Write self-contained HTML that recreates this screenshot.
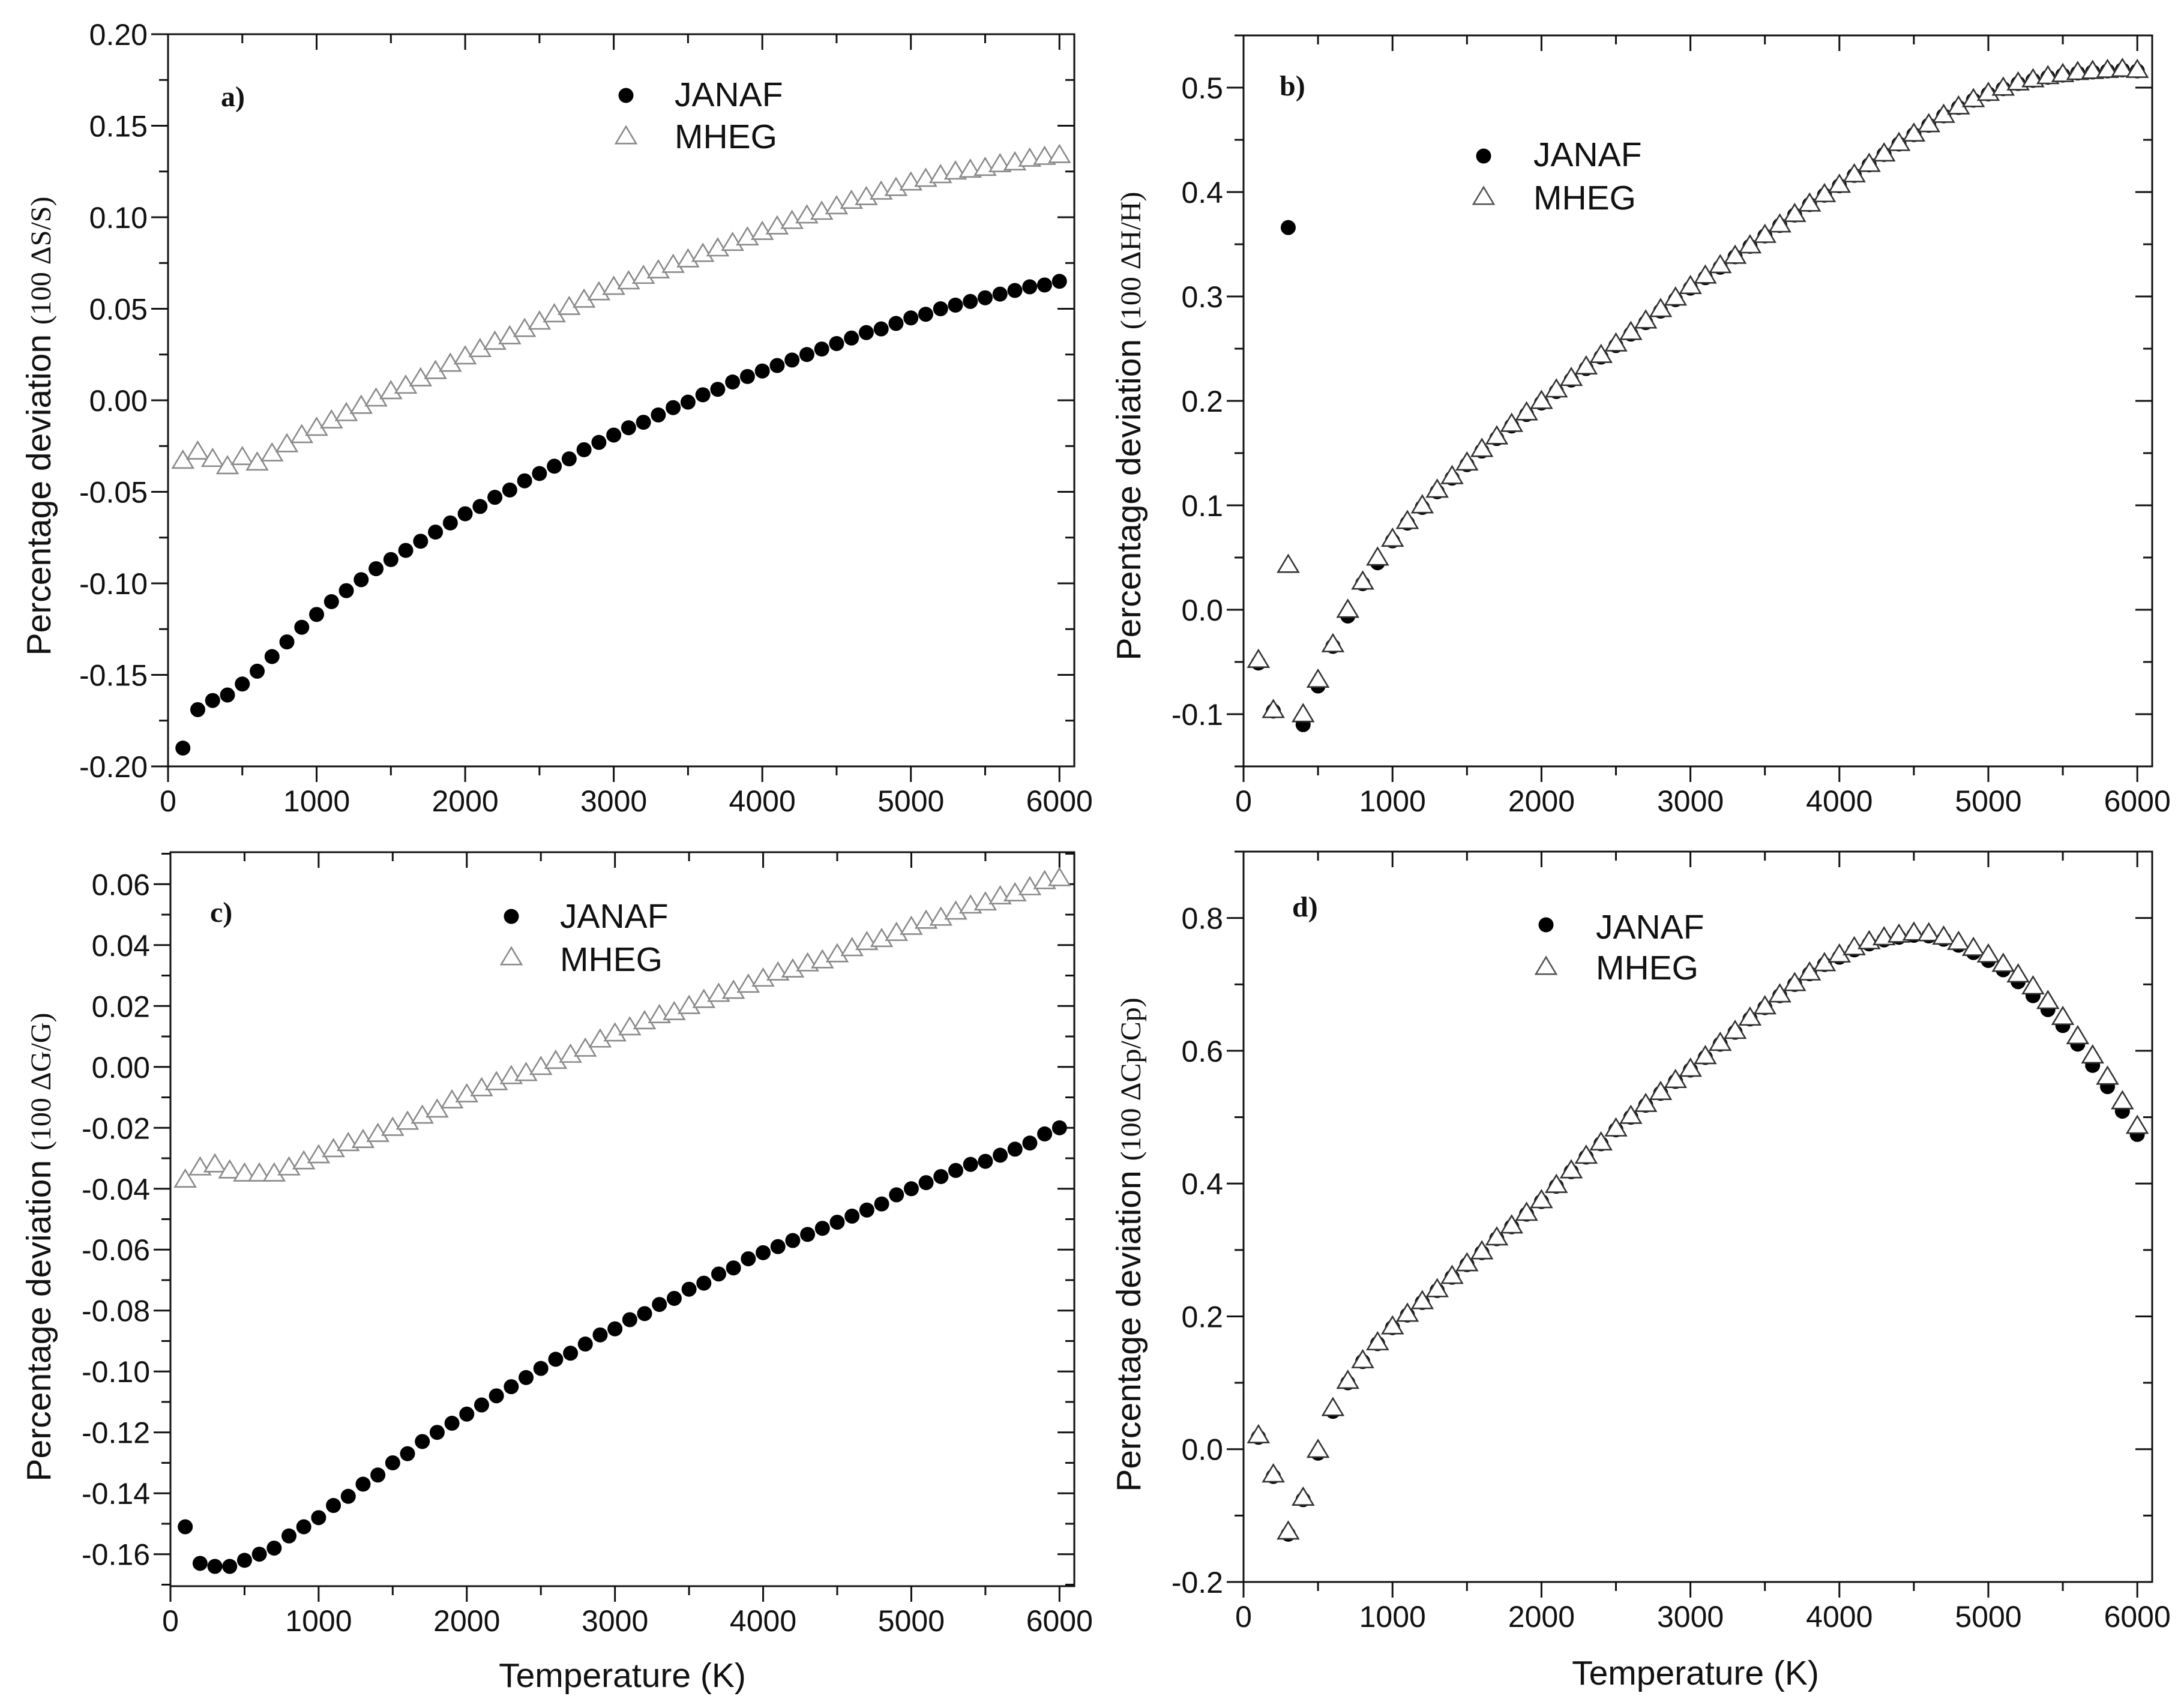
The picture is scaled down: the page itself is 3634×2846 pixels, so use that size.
<!DOCTYPE html>
<html><head><meta charset="utf-8"><style>
html,body{margin:0;padding:0;background:#fff}
svg{display:block}
text{font-family:"Liberation Sans",sans-serif;fill:#111}
</style></head><body>
<svg id="fig" width="3634" height="2846" viewBox="0 0 3634 2846" xmlns="http://www.w3.org/2000/svg"></svg>
<script>
const temps = [100,200,300,400,500,600,700,800,900,1000,1100,1200,1300,1400,1500,1600,1700,1800,1900,2000,2100,2200,2300,2400,2500,2600,2700,2800,2900,3000,3100,3200,3300,3400,3500,3600,3700,3800,3900,4000,4100,4200,4300,4400,4500,4600,4700,4800,4900,5000,5100,5200,5300,5400,5500,5600,5700,5800,5900,6000];
const xTicks = [0,1000,2000,3000,4000,5000,6000];

const aJanaf = [-0.190,-0.169,-0.164,-0.161,-0.155,-0.148,-0.140,-0.132,-0.124,-0.117,-0.110,-0.104,-0.098,-0.092,-0.087,-0.082,-0.077,-0.072,-0.067,-0.062,-0.058,-0.053,-0.049,-0.044,-0.040,-0.036,-0.032,-0.027,-0.023,-0.019,-0.015,-0.012,-0.008,-0.004,-0.001,0.003,0.006,0.010,0.013,0.016,0.019,0.022,0.025,0.028,0.031,0.034,0.037,0.039,0.042,0.045,0.047,0.050,0.052,0.054,0.056,0.058,0.060,0.062,0.063,0.065];
const aMheg = [-0.033,-0.028,-0.032,-0.036,-0.031,-0.034,-0.029,-0.024,-0.019,-0.015,-0.011,-0.007,-0.003,0.001,0.005,0.008,0.012,0.016,0.020,0.024,0.028,0.032,0.035,0.039,0.043,0.047,0.051,0.055,0.059,0.062,0.065,0.068,0.071,0.074,0.077,0.080,0.083,0.086,0.089,0.092,0.095,0.098,0.101,0.103,0.106,0.109,0.111,0.114,0.116,0.119,0.121,0.123,0.125,0.126,0.127,0.129,0.130,0.132,0.133,0.134];
const aYTicks = [-0.20,-0.15,-0.10,-0.05,0.00,0.05,0.10,0.15,0.20];
const aYLabels = ["-0.20","-0.15","-0.10","-0.05","0.00","0.05","0.10","0.15","0.20"];

const bJanaf = [-0.051,-0.097,0.366,-0.110,-0.073,-0.035,-0.006,0.025,0.045,0.066,0.083,0.098,0.113,0.126,0.139,0.152,0.164,0.176,0.187,0.198,0.209,0.220,0.231,0.242,0.253,0.264,0.275,0.286,0.297,0.308,0.318,0.328,0.338,0.348,0.358,0.368,0.378,0.388,0.397,0.406,0.416,0.426,0.436,0.446,0.455,0.464,0.473,0.481,0.488,0.494,0.499,0.504,0.507,0.510,0.512,0.514,0.515,0.516,0.517,0.516];
const bMheg = [-0.048,-0.096,0.043,-0.100,-0.067,-0.033,0.000,0.027,0.050,0.068,0.085,0.100,0.115,0.128,0.141,0.154,0.166,0.178,0.189,0.200,0.211,0.222,0.233,0.244,0.255,0.266,0.277,0.288,0.299,0.310,0.320,0.330,0.339,0.349,0.359,0.369,0.379,0.389,0.398,0.407,0.417,0.427,0.437,0.447,0.456,0.465,0.474,0.482,0.489,0.495,0.500,0.505,0.508,0.511,0.513,0.515,0.516,0.517,0.518,0.517];
const bYTicks = [-0.1,0.0,0.1,0.2,0.3,0.4,0.5];
const bYLabels = ["-0.1","0.0","0.1","0.2","0.3","0.4","0.5"];

const cJanaf = [-0.151,-0.163,-0.164,-0.164,-0.162,-0.160,-0.158,-0.154,-0.151,-0.148,-0.144,-0.141,-0.137,-0.134,-0.130,-0.127,-0.123,-0.120,-0.117,-0.114,-0.111,-0.108,-0.105,-0.102,-0.099,-0.096,-0.094,-0.091,-0.088,-0.086,-0.083,-0.081,-0.078,-0.076,-0.073,-0.071,-0.068,-0.066,-0.063,-0.061,-0.059,-0.057,-0.055,-0.053,-0.051,-0.049,-0.047,-0.045,-0.042,-0.040,-0.038,-0.036,-0.034,-0.032,-0.031,-0.029,-0.027,-0.025,-0.022,-0.020];
const cMheg = [-0.037,-0.033,-0.032,-0.034,-0.035,-0.035,-0.035,-0.033,-0.031,-0.029,-0.027,-0.025,-0.024,-0.022,-0.020,-0.018,-0.016,-0.014,-0.011,-0.009,-0.007,-0.005,-0.003,-0.002,0.000,0.002,0.004,0.006,0.009,0.011,0.013,0.015,0.017,0.018,0.020,0.022,0.024,0.025,0.027,0.029,0.031,0.032,0.034,0.035,0.037,0.039,0.041,0.042,0.044,0.046,0.048,0.049,0.051,0.053,0.054,0.056,0.057,0.059,0.061,0.062];
const cYTicks = [-0.16,-0.14,-0.12,-0.10,-0.08,-0.06,-0.04,-0.02,0.00,0.02,0.04,0.06];
const cYLabels = ["-0.16","-0.14","-0.12","-0.10","-0.08","-0.06","-0.04","-0.02","0.00","0.02","0.04","0.06"];

const dJanaf = [0.018,-0.041,-0.128,-0.076,-0.006,0.057,0.100,0.132,0.159,0.183,0.202,0.221,0.239,0.259,0.278,0.296,0.317,0.335,0.354,0.373,0.396,0.418,0.440,0.460,0.481,0.500,0.518,0.536,0.554,0.571,0.590,0.610,0.628,0.648,0.665,0.683,0.700,0.716,0.730,0.741,0.752,0.761,0.767,0.771,0.774,0.773,0.768,0.759,0.748,0.736,0.722,0.704,0.683,0.662,0.638,0.610,0.578,0.546,0.509,0.474];
const dMheg = [0.021,-0.038,-0.124,-0.073,-0.001,0.062,0.103,0.134,0.161,0.185,0.204,0.223,0.241,0.261,0.280,0.298,0.319,0.337,0.356,0.375,0.398,0.420,0.442,0.462,0.483,0.502,0.520,0.538,0.556,0.573,0.592,0.612,0.630,0.650,0.667,0.685,0.702,0.718,0.732,0.745,0.756,0.765,0.771,0.775,0.778,0.777,0.772,0.764,0.755,0.745,0.731,0.715,0.697,0.675,0.651,0.622,0.593,0.561,0.524,0.487];
const dYTicks = [-0.2,0.0,0.2,0.4,0.6,0.8];
const dYLabels = ["-0.2","0.0","0.2","0.4","0.6","0.8"];

const NS = "http://www.w3.org/2000/svg";
const svg = document.getElementById('fig');
function mk(tag, attrs, parent){
  const e = document.createElementNS(NS, tag);
  for (const k in attrs) e.setAttribute(k, attrs[k]);
  (parent||svg).appendChild(e);
  return e;
}

const panels = [
 {id:'a', L:280, R:1790, T:57, B:1277, ymin:-0.2, ymax:0.2, yminor:0.025, janaf:aJanaf, mheg:aMheg, yt:aYTicks, yl:aYLabels, triColor:'#8a8a8a', tag:'a)', tagX:368, tagY:177, legX:1043, legY1:159, legY2:227, legTX:1124, legB1:177, legB2:247, ytitle:'(100 ΔS/S)', ytX:84, ytY:710, xtitle:false},
 {id:'b', L:2072, R:3586, T:59, B:1277, ymin:-0.15, ymax:0.55, yminor:0.05, janaf:bJanaf, mheg:bMheg, yt:bYTicks, yl:bYLabels, triColor:'#333', tag:'b)', tagX:2132, tagY:159, legX:2472, legY1:260, legY2:328, legTX:2555, legB1:277, legB2:349, ytitle:'(100 ΔH/H)', ytX:1900, ytY:710, xtitle:false},
 {id:'c', L:284, R:1790, T:1420, B:2643, ymin:-0.1705, ymax:0.0705, yminor:0.01, janaf:cJanaf, mheg:cMheg, yt:cYTicks, yl:cYLabels, triColor:'#8a8a8a', tag:'c)', tagX:350, tagY:1536, legX:852, legY1:1527, legY2:1595, legTX:933, legB1:1546, legB2:1618, ytitle:'(100 ΔG/G)', ytX:84, ytY:2078, xtitle:true, xtX:1037, xtY:2811},
 {id:'d', L:2072, R:3586, T:1419, B:2636, ymin:-0.2, ymax:0.9, yminor:0.1, janaf:dJanaf, mheg:dMheg, yt:dYTicks, yl:dYLabels, triColor:'#333', tag:'d)', tagX:2153, tagY:1527, legX:2576, legY1:1541, legY2:1611, legTX:2659, legB1:1564, legB2:1632, ytitle:'(100 ΔCp/Cp)', ytX:1900, ytY:2074, xtitle:true, xtX:2825, xtY:2807}
];
const XMAX = 6100;

function tri(g, cx, cy, color){
  const w=17, h=27;
  return mk('polygon',{points:`${cx-w},${cy+h*0.45} ${cx+w},${cy+h*0.45} ${cx},${cy-h*0.6}`, fill:'#fff', stroke:color, 'stroke-width':2.6}, g);
}

panels.forEach(p=>{
  const g = mk('g',{});
  
  
  const xs = v => p.L + (v/XMAX)*(p.R-p.L);
  const ys = v => p.B - (v-p.ymin)/(p.ymax-p.ymin)*(p.B-p.T);

  const frame = mk('rect',{x:p.L,y:p.T,width:p.R-p.L,height:p.B-p.T,fill:'none',stroke:'#111','stroke-width':3},g);
  
  

  for(let v=0; v<=6000; v+=500){
    const major = v%1000===0;
    const x = xs(v), len = major?26:15;
    mk('line',{x1:x,y1:p.B,x2:x,y2:p.B+len,stroke:'#111','stroke-width':3},g);
    mk('line',{x1:x,y1:p.T,x2:x,y2:p.T+len,stroke:'#111','stroke-width':3},g);
  }
  xTicks.forEach(v=>{
    const t = mk('text',{x:xs(v),y:p.B+75,'font-size':50,'text-anchor':'middle'},g);
    t.textContent = String(v);
    
    
  });
  for(let v=p.yt[0]-p.yminor*Math.ceil((p.yt[0]-p.ymin)/p.yminor-1e-9); v<=p.ymax+1e-9; v+=p.yminor){
    if (v < p.ymin-1e-9) continue;
    const y = ys(v);
    const major = p.yt.some(t=>Math.abs(t-v)<1e-6);
    const len = major?28:15;
    mk('line',{x1:p.L-len,y1:y,x2:p.L,y2:y,stroke:'#111','stroke-width':3},g);
    mk('line',{x1:p.R-len,y1:y,x2:p.R,y2:y,stroke:'#111','stroke-width':3},g);
  }
  p.yt.forEach((v,i)=>{
    const t = mk('text',{x:p.L-34,y:ys(v)+18,'font-size':50,'text-anchor':'end'},g);
    t.textContent = p.yl[i];
    
    
  });

  const sJ = mk('g',{},g);
  
  
  p.janaf.forEach((v,i)=>{
    const c = mk('circle',{cx:xs(temps[i]),cy:ys(v),r:12.5,fill:'#000'},sJ);
    
    
  });
  const sM = mk('g',{},g);
  
  
  p.mheg.forEach((v,i)=>{
    const t = tri(sM, xs(temps[i]), ys(v), p.triColor);
    
    
  });

  const tg = mk('text',{x:p.tagX,y:p.tagY,'font-size':48,'font-weight':'bold',style:'font-family:"Liberation Serif",serif'},g);
  tg.textContent = p.tag;
  
  

  const lg = mk('g',{},g);
  
  
  const lc = mk('circle',{cx:p.legX,cy:p.legY1,r:12.5,fill:'#000'},lg);
  
  
  const lt = tri(lg,p.legX,p.legY2,p.id==='a'||p.id==='c'?'#8a8a8a':'#555');
  
  
  const l1 = mk('text',{x:p.legTX,y:p.legB1,'font-size':57},lg);
  l1.textContent='JANAF';
  
  
  const l2 = mk('text',{x:p.legTX,y:p.legB2,'font-size':57},lg);
  l2.textContent='MHEG';
  
  

  const yt = mk('text',{x:0,y:0,'font-size':57,'text-anchor':'middle',transform:`translate(${p.ytX},${p.ytY}) rotate(-90)`},g);
  
  
  const s1 = mk('tspan',{},yt); s1.textContent='Percentage deviation ';
  const s2 = mk('tspan',{'font-size':48,style:'font-family:"Liberation Serif",serif'},yt); s2.textContent=p.ytitle;

  if (p.xtitle){
    const xt = mk('text',{x:p.xtX,y:p.xtY,'font-size':57,'text-anchor':'middle'},g);
    xt.textContent='Temperature (K)';
    
    
  }
});
</script>
</body></html>
